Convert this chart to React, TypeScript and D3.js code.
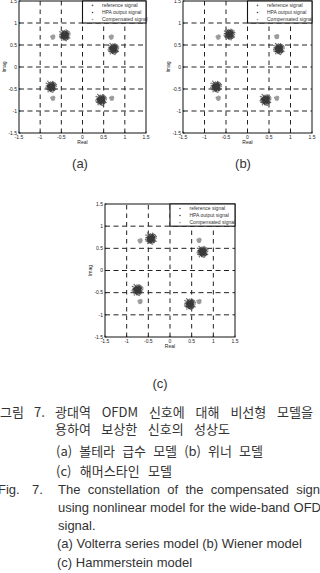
import React, { useLayoutEffect, useRef, useState } from 'react';
import * as d3 from 'd3';

// ---------- data ----------
const axisTicks = [-1.5, -1, -0.5, 0, 0.5, 1, 1.5];
const gridValues = [-1, -0.5, 0, 0.5, 1];
const seriesNames = ['reference signal', 'HPA output signal', 'Compensated signal'];
const panelLetters = ['(a)', '(b)', '(c)'];

// reference (light, small) cluster centres per panel
const refCentersA = [[-0.70, 0.68], [0.68, 0.68], [-0.70, -0.71], [0.69, -0.71]];
const refCentersB = [[-0.68, 0.68], [0.68, 0.69], [-0.68, -0.71], [0.68, -0.71]];
const refCentersC = [[-0.69, 0.67], [0.67, 0.68], [-0.69, -0.70], [0.67, -0.70]];

// HPA output / compensated (dense) cluster centres per panel
const hpaCentersA = [[-0.42, 0.72], [0.73, 0.41], [-0.74, -0.45], [0.44, -0.75]];
const hpaCentersB = [[-0.42, 0.74], [0.73, 0.41], [-0.73, -0.45], [0.42, -0.75]];
const hpaCentersC = [[-0.44, 0.72], [0.75, 0.42], [-0.75, -0.44], [0.46, -0.76]];

// hand-read scatter shape of a cluster (unit offsets)
const clusterShape = [
  [0.12, -0.35], [-0.48, 0.22], [0.65, 0.10], [-0.20, -0.72], [0.33, 0.58], [-0.81, -0.15], [0.05, 0.91], [0.77, -0.44], [-0.37, 0.49], [0.21, 0.08],
  [-0.09, -0.27], [0.52, -0.69], [-0.63, 0.61], [0.92, 0.27], [-0.28, -0.05], [0.41, 0.33], [-0.55, -0.48], [0.15, -0.88], [-0.95, 0.30], [0.70, 0.62],
  [-0.12, 0.35], [0.28, -0.18], [-0.40, -0.85], [0.58, 0.80], [-0.72, 0.05], [0.02, -0.50], [0.85, -0.10], [-0.25, 0.75], [0.45, -0.40], [-0.60, -0.25],
  [0.10, 0.55], [-0.85, -0.55], [0.35, 0.95], [0.62, -0.90], [-0.15, -0.95], [0.95, -0.60], [-0.45, 0.90], [0.25, 0.25], [-0.30, 0.15], [0.05, -0.10],
  [0.50, 0.15], [-0.05, 0.20], [-0.70, 0.40], [0.80, 0.45], [0.18, -0.62], [-0.50, -0.65], [0.38, 0.72], [-0.20, -0.40], [0.68, -0.25], [-0.88, 0.10],
];

const captionKo1 = '광대역 OFDM 신호에 대해 비선형 모델을';
const captionKo2 = '용하여 보상한 신호의 성상도';
const captionKo3 = '(a) 볼테라 급수 모델 (b) 위너 모델';
const captionKo4 = '(c) 해머스타인 모델';
const captionEn1 = 'The constellation of the compensated signal';
const captionEn2 = 'using nonlinear model for the wide-band OFDM';
const captionEn3 = 'signal.';
const captionEn4 = '(a) Volterra series model (b) Wiener model';
const captionEn5 = '(c) Hammerstein model';

const refSets = [refCentersA, refCentersB, refCentersC];
const hpaSets = [hpaCentersA, hpaCentersB, hpaCentersC];

const FONT = "'Liberation Sans', Arial, sans-serif";
const KFONT = "'Noto Sans CJK KR', 'Liberation Sans', sans-serif";
const seriesColor = ['#9a9a9a', '#3a3a3a', '#6a6a6a'];

// text whose word spaces are widened so that its first `upto` characters span `target` px
function JustText({ x, y, target, text, upto }: { x: number; y: number; target: number; text: string; upto?: number }) {
  const ref = useRef<SVGTextElement>(null);
  const [ws, setWs] = useState(0);
  useLayoutEffect(() => {
    const el = ref.current;
    if (!el) return;
    const n = upto ?? text.length;
    let w = 0;
    try {
      w = el.getSubStringLength(0, n);
    } catch (e) {
      w = el.getComputedTextLength();
    }
    const spaces = text.slice(0, n).split(' ').length - 1;
    if (spaces > 0) setWs(Math.max(0, (target - w) / spaces));
  }, [text, target, upto]);
  return (
    <text ref={ref} x={x} y={y} style={{ wordSpacing: ws + 'px' }}>{text}</text>
  );
}

type PanelProps = { idx: number; left: number; top: number; w: number; h: number; labelX: number; labelY: number };

function Panel({ idx, left, top, w, h, labelX, labelY }: PanelProps) {
  const x = d3.scaleLinear().domain([-1.5, 1.5]).range([left, left + w]);
  const y = d3.scaleLinear().domain([-1.5, 1.5]).range([top + h, top]);
  const refs = refSets[idx];
  const hpas = hpaSets[idx];
  const fmt = (d: number) => String(d);
  const legX0 = x(0);
  const legY0 = y(1.5);
  const legH = y(1) - y(1.5);
  return (
    <g>
      {gridValues.map((g) => (
        <line key={'gx' + g} x1={x(g)} x2={x(g)} y1={y(-1.5)} y2={y(1.5)} stroke="#222" strokeWidth={1} strokeDasharray="4.5,4" />
      ))}
      {gridValues.map((g) => (
        <line key={'gy' + g} x1={x(-1.5)} x2={x(1.5)} y1={y(g)} y2={y(g)} stroke="#222" strokeWidth={1} strokeDasharray="5,3.5" />
      ))}
      {refs.map((c, ci) =>
        clusterShape.slice(0, 24).map((o, i) => (
          <circle key={'r' + ci + '-' + i} cx={x(c[0] + o[0] * 0.05)} cy={y(c[1] + o[1] * 0.05)} r={0.75} fill={seriesColor[0]} />
        ))
      )}
      {hpas.map((c, ci) =>
        clusterShape.map((o, i) => (
          <circle key={'c' + ci + '-' + i} cx={x(c[0] + o[1] * 0.13)} cy={y(c[1] + o[0] * 0.13)} r={0.75} fill={seriesColor[2]} />
        ))
      )}
      {hpas.map((c, ci) =>
        clusterShape.map((o, i) => (
          <circle key={'h' + ci + '-' + i} cx={x(c[0] + o[0] * 0.095)} cy={y(c[1] + o[1] * 0.095)} r={0.8} fill={seriesColor[1]} />
        ))
      )}
      {hpas.map((c, ci) =>
        clusterShape.map((o, i) => (
          <circle key={'h2' + ci + '-' + i} cx={x(c[0] - o[1] * 0.055)} cy={y(c[1] + o[0] * 0.055)} r={0.85} fill={seriesColor[1]} />
        ))
      )}
      <rect x={left} y={top} width={w} height={h} fill="none" stroke="#111" strokeWidth={1} />
      {axisTicks.map((t) => (
        <g key={'t' + t}>
          <line x1={x(t)} x2={x(t)} y1={top + h} y2={top + h - 1.5} stroke="#111" strokeWidth={0.8} />
          <line x1={left} x2={left + 1.5} y1={y(t)} y2={y(t)} stroke="#111" strokeWidth={0.8} />
          <text x={x(t)} y={top + h + 5.5} fontSize={5} fontFamily={FONT} fill="#222" textAnchor="middle">{fmt(t)}</text>
          <text x={left - 2} y={y(t) + 1.8} fontSize={5} fontFamily={FONT} fill="#222" textAnchor="end">{fmt(t)}</text>
        </g>
      ))}
      <text x={x(0)} y={top + h + 11} fontSize={5} fontFamily={FONT} fill="#222" textAnchor="middle">Real</text>
      <text transform={`translate(${left - 13},${y(0)}) rotate(-90)`} fontSize={5} fontFamily={FONT} fill="#222" textAnchor="middle">Imag</text>
      <rect x={legX0} y={legY0} width={x(1.5) - legX0} height={legH} fill="#fff" stroke="#111" strokeWidth={1.1} />
      {seriesNames.map((n, i) => (
        <g key={n}>
          <circle cx={legX0 + 10} cy={legY0 + legH * (0.2 + i * 0.32)} r={0.8} fill={i === 0 ? '#555' : i === 1 ? '#444' : '#999'} />
          <text x={legX0 + 19.5} y={legY0 + legH * (0.2 + i * 0.32) + 1.7} fontSize={5} fontFamily={FONT} fill="#333">{n}</text>
        </g>
      ))}
      <text x={labelX} y={labelY} fontSize={13} fontFamily={FONT} fill="#333" textAnchor="middle">{panelLetters[idx]}</text>
    </g>
  );
}

export default function App() {
  return (
    <svg width={320} height={573} style={{ position: 'absolute', left: 0, top: 0, background: '#fff' }} viewBox="0 0 320 573">
      <rect x={0} y={0} width={320} height={573} fill="#fff" />
      <Panel idx={0} left={19} top={1} w={127} h={132} labelX={80} labelY={168} />
      <Panel idx={1} left={183} top={1} w={129} h={132} labelX={243} labelY={168} />
      <Panel idx={2} left={105} top={204} w={130} h={133} labelX={160} labelY={388} />

      <g fontFamily={KFONT} fontSize={13} fill="#333">
        <text x={0} y={417}>그림</text>
        <text x={34} y={417}>7.</text>
        <JustText x={55} y={417} target={258} text={captionKo1} />
        <JustText x={55} y={434} target={175} text={captionKo2} />
        <JustText x={56} y={456} target={207} text={captionKo3} />
        <JustText x={56} y={476} target={116} text={captionKo4} />
      </g>
      <g fontFamily={FONT} fontSize={13} fill="#333">
        <text x={-2} y={494}>Fig.</text>
        <text x={32} y={494}>7.</text>
        <JustText x={58} y={494} target={262} text={captionEn1} upto={41} />
        <JustText x={58} y={512} target={263} text={captionEn2} upto={43} />
        <text x={58} y={530}>{captionEn3}</text>
        <text x={57} y={548}>{captionEn4}</text>
        <text x={57} y={567}>{captionEn5}</text>
      </g>
    </svg>
  );
}
